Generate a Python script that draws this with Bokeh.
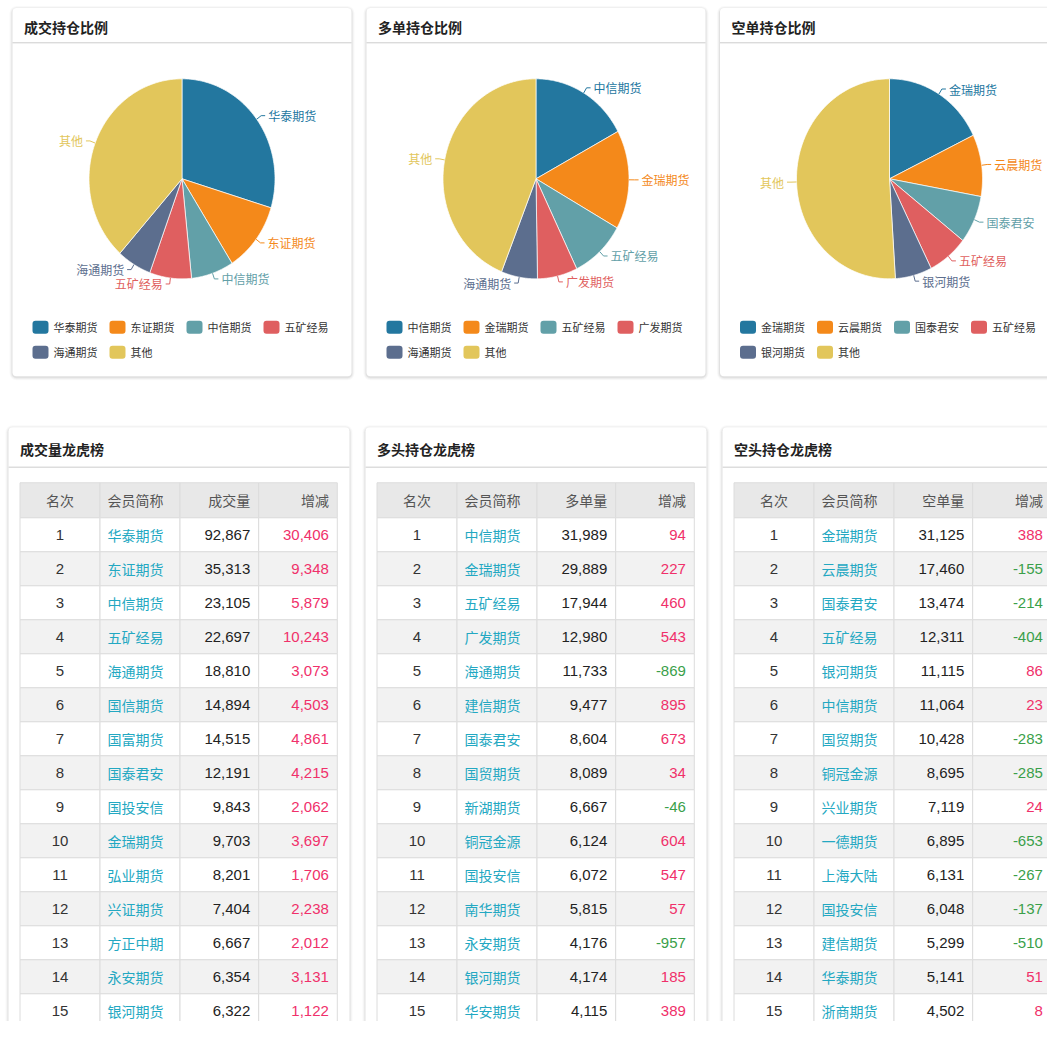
import numpy as np
from bokeh.plotting import figure
from bokeh.models import Range1d, ColumnDataSource
from bokeh.core.properties import value
from bokeh.embed import file_html
from bokeh.resources import INLINE

# ---------------- data ----------------
pie_titles = ["成交持仓比例", "多单持仓比例", "空单持仓比例"]
pie1_names = ["华泰期货", "东证期货", "中信期货", "五矿经易", "海通期货", "其他"]
pie1_values = [92867, 35313, 23105, 22697, 18810, 120000]
pie2_names = ["中信期货", "金瑞期货", "五矿经易", "广发期货", "海通期货", "其他"]
pie2_values = [31989, 29889, 17944, 12980, 11733, 82000]
pie3_names = ["金瑞期货", "云晨期货", "国泰君安", "五矿经易", "银河期货", "其他"]
pie3_values = [31125, 17460, 13474, 12311, 11115, 89000]
pie_colors = ["#23779f", "#f4891a", "#62a0a8", "#df5f60", "#5c6e8e", "#e2c65b"]

table_titles = ["成交量龙虎榜", "多头持仓龙虎榜", "空头持仓龙虎榜"]
head_rank = "名次"
head_name = "会员简称"
head_values = ["成交量", "多单量", "空单量"]
head_change = "增减"
ranks = list(range(1, 16))

vol_names = ["华泰期货", "东证期货", "中信期货", "五矿经易", "海通期货", "国信期货", "国富期货",
             "国泰君安", "国投安信", "金瑞期货", "弘业期货", "兴证期货", "方正中期", "永安期货", "银河期货"]
vol_values = [92867, 35313, 23105, 22697, 18810, 14894, 14515, 12191, 9843, 9703, 8201, 7404, 6667, 6354, 6322]
vol_changes = [30406, 9348, 5879, 10243, 3073, 4503, 4861, 4215, 2062, 3697, 1706, 2238, 2012, 3131, 1122]

long_names = ["中信期货", "金瑞期货", "五矿经易", "广发期货", "海通期货", "建信期货", "国泰君安",
              "国贸期货", "新湖期货", "铜冠金源", "国投安信", "南华期货", "永安期货", "银河期货", "华安期货"]
long_values = [31989, 29889, 17944, 12980, 11733, 9477, 8604, 8089, 6667, 6124, 6072, 5815, 4176, 4174, 4115]
long_changes = [94, 227, 460, 543, -869, 895, 673, 34, -46, 604, 547, 57, -957, 185, 389]

short_names = ["金瑞期货", "云晨期货", "国泰君安", "五矿经易", "银河期货", "中信期货", "国贸期货",
               "铜冠金源", "兴业期货", "一德期货", "上海大陆", "国投安信", "建信期货", "华泰期货", "浙商期货"]
short_values = [31125, 17460, 13474, 12311, 11115, 11064, 10428, 8695, 7119, 6895, 6131, 6048, 5299, 5141, 4502]
short_changes = [388, -155, -214, -404, 86, 23, -283, -285, 24, -653, -267, -137, -510, 51, 8]

# ---------------- figure ----------------
W, H = 1047, 1021
p = figure(width=W, height=H, x_range=Range1d(0, W), y_range=Range1d(H, 0),
           output_backend="svg", toolbar_location=None, min_border=0,
           x_axis_location=None, y_axis_location=None)
p.grid.visible = False
p.outline_line_color = None
p.background_fill_color = "white"
p.border_fill_color = "white"

CJK = value("Noto Sans CJK SC, sans-serif")
NUM = value("Liberation Sans, Noto Sans CJK SC, sans-serif")


def card(left, right, top, bottom):
    for d, a in [(3, 0.025), (2, 0.035), (1, 0.06)]:
        p.quad(left=left - d, right=right + d, top=top - d + 1, bottom=bottom + d + 1,
               fill_color="black", fill_alpha=a, line_color=None, border_radius=4 + d)
    p.quad(left=left, right=right, top=top, bottom=bottom, fill_color="white",
           line_color=None, border_radius=4)


# ---------------- pie cards ----------------
pie_sets = [(pie1_names, pie1_values), (pie2_names, pie2_values), (pie3_names, pie3_values)]
pie_card_lefts = [12, 366, 719.5]
PW = 339
for k, (names, vals) in enumerate(pie_sets):
    L = pie_card_lefts[k]
    card(L, L + PW, 7.5, 375.7)
    p.text(x=[L + 11.5], y=[26.5], text=[pie_titles[k]], text_font=CJK, text_font_size="14px",
           text_font_style="bold", text_color="#222", text_baseline="middle", text_align="left")
    p.segment(x0=[L], x1=[L + PW], y0=[42.3], y1=[42.3], line_color="#cccccc", line_width=1)

    cx, cy, rx, ry = L + 169.5, 178.3, 93.0, 100.0
    v = np.array(vals, dtype=float)
    cum = np.concatenate([[0], np.cumsum(v)]) / v.sum() * 2 * np.pi
    xs, ys = [], []
    for i in range(len(v)):
        a = np.linspace(cum[i], cum[i + 1], 80)
        xs.append(list(np.concatenate([[cx], cx + rx * np.sin(a)])))
        ys.append(list(np.concatenate([[cy], cy - ry * np.cos(a)])))
    p.patches(xs=xs, ys=ys, fill_color=pie_colors[:len(v)], line_color="white", line_width=0.7)

    # outside labels
    labs = []
    for i in range(len(v)):
        m = (cum[i] + cum[i + 1]) / 2
        s, c = np.sin(m), np.cos(m)
        d = 1 if s >= 0 else -1
        labs.append(dict(i=i, d=d, x0=cx + rx * s, y0=cy - ry * c,
                         x1=cx + rx * 1.06 * s, y1=cy - ry * 1.06 * c))
    for side in (1, -1):
        grp = sorted([l for l in labs if l["d"] == side], key=lambda l: l["y1"])
        prev = None
        for l in grp:
            l["ty"] = l["y1"] if prev is None else max(l["y1"], prev + 14)
            prev = l["ty"]
    lx, ly, tx, ty, tt, tc, ta = [], [], [], [], [], [], []
    for l in labs:
        x2 = l["x1"] + l["d"] * 4
        lx.append([l["x0"], l["x1"], x2])
        ly.append([l["y0"], l["ty"], l["ty"]])
        tx.append(x2 + l["d"] * 3)
        ty.append(l["ty"])
        tt.append(names[l["i"]])
        tc.append(pie_colors[l["i"]])
        ta.append("left" if l["d"] > 0 else "right")
    p.multi_line(xs=lx, ys=ly, line_color=tc, line_width=1)
    p.text(x="x", y="y", text="t", text_color="c", text_align="a",
           source=ColumnDataSource(dict(x=tx, y=ty, t=tt, c=tc, a=ta)),
           text_font=CJK, text_font_size="12px", text_baseline="middle")

    # legend
    gl, gy = [], []
    for i in range(len(v)):
        r, cc = divmod(i, 4)
        gl.append(L + 20 + cc * 77)
        gy.append(326.7 + r * 25)
    p.quad(left=gl, right=[g + 16 for g in gl], top=[y - 6.5 for y in gy],
           bottom=[y + 6.5 for y in gy], fill_color=pie_colors[:len(v)], line_color=None,
           border_radius=3)
    p.text(x=[g + 21 for g in gl], y=gy, text=list(names), text_font=CJK,
           text_font_size="11px", text_color="#333", text_baseline="middle", text_align="left")

# ---------------- tables ----------------
table_sets = [(vol_names, vol_values, vol_changes),
              (long_names, long_values, long_changes),
              (short_names, short_values, short_changes)]
table_card_lefts = [8, 365, 722]
TW = 341
col_w = [80, 80, 78.7, 78.6]
row_h = 34.0
head_h = 35.0
head_top = 482.3
for k, (names, vals, chgs) in enumerate(table_sets):
    L = table_card_lefts[k]
    card(L, L + TW, 426.7, 1060)
    p.text(x=[L + 11.5], y=[448], text=[table_titles[k]], text_font=CJK, text_font_size="14px",
           text_font_style="bold", text_color="#222", text_baseline="middle", text_align="left")
    p.segment(x0=[L], x1=[L + TW], y0=[466.7], y1=[466.7], line_color="#dddddd", line_width=1.5)

    tl = L + 11.5
    edges = tl + np.cumsum([0] + col_w)
    ql, qr, qt, qb, qf = [], [], [], [], []
    for r in range(len(names) + 1):
        if r == 0:
            top, bot, fill = head_top, head_top + head_h, "#e8e8e8"
        else:
            top = head_top + head_h + (r - 1) * row_h
            bot = top + row_h
            fill = "#f2f2f2" if r % 2 == 0 else "#ffffff"
        for c in range(4):
            ql.append(edges[c]); qr.append(edges[c + 1])
            qt.append(top); qb.append(bot); qf.append(fill)
    p.quad(left=ql, right=qr, top=qt, bottom=qb, fill_color=qf, line_color="#dcdcdc", line_width=1)

    c0 = (edges[0] + edges[1]) / 2
    c1 = (edges[1] + edges[2]) / 2 - 4.5
    r3 = edges[3] - 8.4
    r4 = edges[4] - 8.4
    hy = head_top + head_h / 2
    p.text(x=[c0, c1], y=[hy, hy], text=[head_rank, head_name], text_font=CJK,
           text_font_size="14px", text_color="#555", text_align="center", text_baseline="middle")
    p.text(x=[r3, r4], y=[hy, hy], text=[head_values[k], head_change], text_font=CJK,
           text_font_size="14px", text_color="#555", text_align="right", text_baseline="middle")

    yy = [head_top + head_h + row_h * (i + 0.5) for i in range(len(names))]
    p.text(x=[c0] * len(ranks), y=yy, text=[str(r) for r in ranks], text_font=NUM,
           text_font_size="15px", text_color="#333", text_align="center", text_baseline="middle")
    p.text(x=[c1] * len(names), y=yy, text=list(names), text_font=CJK,
           text_font_size="14px", text_color="#23a8c2", text_align="center", text_baseline="middle")
    p.text(x=[r3] * len(vals), y=yy, text=[f"{v:,}" for v in vals], text_font=NUM,
           text_font_size="15px", text_color="#222", text_align="right", text_baseline="middle")
    p.text(x=[r4] * len(chgs), y=yy, text=[f"{v:,}" for v in chgs], text_font=NUM,
           text_font_size="15px", text_color=["#f0306a" if v >= 0 else "#3a9f4a" for v in chgs],
           text_align="right", text_baseline="middle")

open("out.html", "w").write(file_html(p, INLINE))
